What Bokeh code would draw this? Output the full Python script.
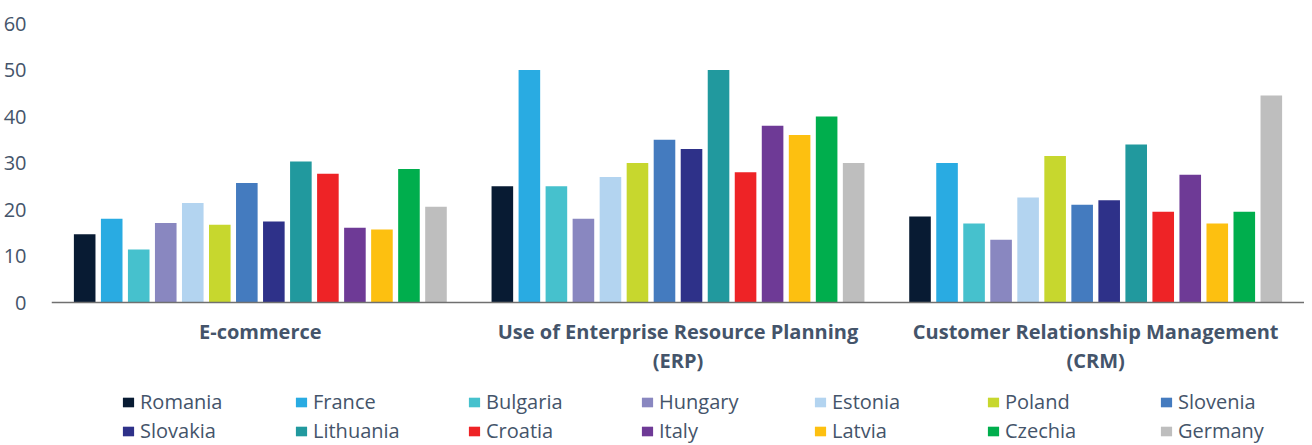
from bokeh.plotting import figure
from bokeh.models import (ColumnDataSource, FactorRange, Range1d, Legend, LegendItem,
                          FixedTicker, Span)
from bokeh.core.properties import value
from bokeh.transform import dodge
from bokeh.embed import file_html
from bokeh.resources import INLINE

groups = ["E-commerce", "Use of Enterprise Resource Planning", "Customer Relationship Management"]
group_second_line = ["", "(ERP)", "(CRM)"]

countries = ["Romania", "France", "Bulgaria", "Hungary", "Estonia", "Poland", "Slovenia",
             "Slovakia", "Lithuania", "Croatia", "Italy", "Latvia", "Czechia", "Germany"]
colors = ["#081B33", "#29ABE2", "#46C1CD", "#8987C0", "#B3D4F0", "#C7D72E", "#447BBF",
          "#2E3189", "#21999E", "#EE2326", "#6E3A96", "#FDC010", "#00AE4D", "#BEBEBE"]

ecommerce = [14.7, 18.0, 11.4, 17.1, 21.4, 16.7, 25.7, 17.4, 30.3, 27.7, 16.1, 15.7, 28.7, 20.6]
erp = [25.0, 50.0, 25.0, 18.0, 27.0, 30.0, 35.0, 33.0, 50.0, 28.0, 38.0, 36.0, 40.0, 30.0]
crm = [18.5, 30.0, 17.0, 13.5, 22.6, 31.5, 21.0, 22.0, 34.0, 19.5, 27.5, 17.0, 19.5, 44.5]

y_ticks = [0, 10, 20, 30, 40, 50, 60]
y_max = 60

TEXT = "#44546A"
FONT = "Open Sans"

# layout (pixels)
W, H = 1304, 445
TOP = 23          # frame top (value 60)
ZERO = 302        # pixel row of value 0
px_per_unit = (ZERO - TOP) / y_max
y_min = -(H - ZERO) / px_per_unit

data = {"group": groups, "line2": group_second_line}
for i, c in enumerate(countries):
    data[c] = [ecommerce[i], erp[i], crm[i]]
source = ColumnDataSource(data)

p = figure(x_range=FactorRange(*groups, range_padding=0), y_range=Range1d(y_min, y_max),
           width=W, height=H, output_backend="svg", toolbar_location=None,
           x_axis_location=None,
           min_border_left=42, min_border_right=0, min_border_top=TOP, min_border_bottom=0)
p.outline_line_color = None
p.xgrid.grid_line_color = None
p.ygrid.grid_line_color = None

pitch = 0.0647
bar_w = 0.0517
items = []
for j, c in enumerate(countries):
    r = p.vbar(x=dodge("group", (j - 6.5) * pitch, range=p.x_range), top=c, width=bar_w,
               source=source, fill_color=colors[j], line_color=None)
    items.append(LegendItem(label=c, renderers=[r]))

# x axis baseline
p.add_layout(Span(location=0, dimension="width", line_color="#707070", line_width=1.5))

# group labels (two lines)
p.text(x="group", y=0, text="group", source=source, y_offset=29,
       text_align="center", text_baseline="alphabetic", text_color=TEXT,
       text_font=value(FONT), text_font_size="20px", text_font_style="bold")
p.text(x="group", y=0, text="line2", source=source, y_offset=58,
       text_align="center", text_baseline="alphabetic", text_color=TEXT,
       text_font=value(FONT), text_font_size="20px", text_font_style="bold")

# y axis
ya = p.yaxis[0]
ya.ticker = FixedTicker(ticks=y_ticks)
ya.axis_line_color = None
ya.major_tick_line_color = None
ya.minor_tick_line_color = None
ya.major_label_text_font = FONT
ya.major_label_text_font_size = "20px"
ya.major_label_text_color = TEXT
ya.major_label_standoff = 19

legend = Legend(items=items, orientation="horizontal", ncols=7, location=(70, 1),
                glyph_width=14, glyph_height=12, label_standoff=5, label_width=152,
                label_height=22, spacing=2, padding=0, margin=0,
                label_text_font=FONT, label_text_font_size="20px", label_text_color=TEXT,
                border_line_color=None, background_fill_alpha=0)
p.add_layout(legend, "center")

open("out.html", "w").write(file_html(p, INLINE))
